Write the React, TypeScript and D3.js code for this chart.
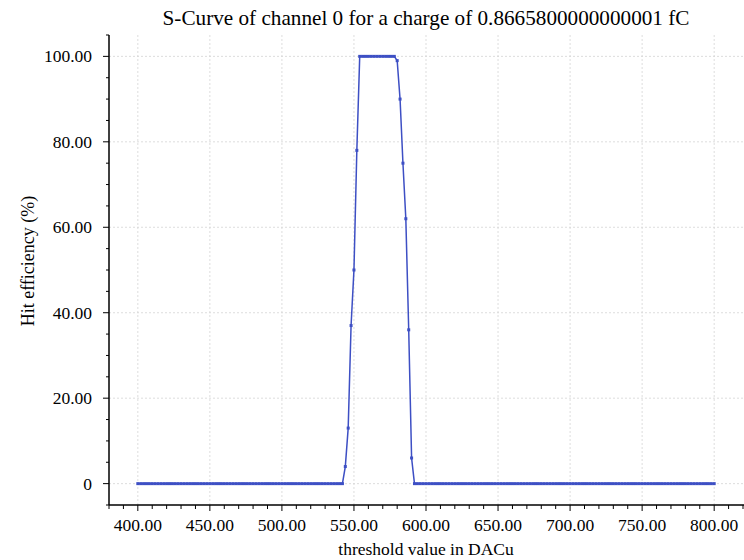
import React from "react";
import * as d3 from "d3";

const title = "S-Curve of channel 0 for a charge of 0.8665800000000001 fC";
const xLabel = "threshold value in DACu";
const yLabel = "Hit efficiency (%)";

// thresholds 400..800 step 2
const thresholds: number[] = d3.range(400, 801, 2);
const efficiency: number[] = [
  0, 0, 0, 0, 0, 0, 0, 0, 0, 0, 0, 0, 0, 0, 0, 0, 0, 0, 0, 0,
  0, 0, 0, 0, 0, 0, 0, 0, 0, 0, 0, 0, 0, 0, 0, 0, 0, 0, 0, 0,
  0, 0, 0, 0, 0, 0, 0, 0, 0, 0, 0, 0, 0, 0, 0, 0, 0, 0, 0, 0,
  0, 0, 0, 0, 0, 0, 0, 0, 0, 0, 0, 0,
  4, 13, 37, 50, 78,
  100, 100, 100, 100, 100, 100, 100, 100, 100, 100, 100, 100, 100,
  99, 90, 75, 62, 36, 6,
  0, 0, 0, 0, 0, 0, 0, 0, 0, 0, 0, 0, 0, 0, 0, 0, 0, 0, 0, 0,
  0, 0, 0, 0, 0, 0, 0, 0, 0, 0, 0, 0, 0, 0, 0, 0, 0, 0, 0, 0,
  0, 0, 0, 0, 0, 0, 0, 0, 0, 0, 0, 0, 0, 0, 0, 0, 0, 0, 0, 0,
  0, 0, 0, 0, 0, 0, 0, 0, 0, 0, 0, 0, 0, 0, 0, 0, 0, 0, 0, 0,
  0, 0, 0, 0, 0, 0, 0, 0, 0, 0, 0, 0, 0, 0, 0, 0, 0, 0, 0, 0,
  0, 0, 0, 0, 0,
];
const xMajorTicks = [400, 450, 500, 550, 600, 650, 700, 750, 800];
const yMajorTicks = [0, 20, 40, 60, 80, 100];

const W = 744;
const H = 560;
const left = 109;
const right = 743;
const top = 35;
const bottom = 505;
const color = "#3d4fc4";
const font = "'Liberation Serif', 'DejaVu Serif', serif";

export default function App() {
  const x = d3.scaleLinear().domain([380, 820]).range([left, right]);
  const y = d3.scaleLinear().domain([-5, 105]).range([bottom, top]);
  const xMinor = d3.range(380, 821, 10);
  const yMinor = d3.range(-5, 106, 5);
  const data = thresholds.map((t, i) => [t, efficiency[i]] as [number, number]);
  const line = d3
    .line<[number, number]>()
    .x((d) => x(d[0]))
    .y((d) => y(d[1]));
  const fmtY = (v: number) => (v === 0 ? "0" : v.toFixed(2));
  return (
    <svg
      width={W}
      height={H}
      style={{ position: "absolute", left: 0, top: 0, background: "#fff", fontFamily: font }}
    >
      <rect width={W} height={H} fill="#fff" />
      {/* grid */}
      {xMajorTicks.map((t) => (
        <line
          key={"gx" + t}
          x1={x(t)}
          x2={x(t)}
          y1={top}
          y2={bottom}
          stroke="#d4d4d4"
          strokeWidth={0.8}
          strokeDasharray="2,2"
        />
      ))}
      {yMajorTicks.map((t) => (
        <line
          key={"gy" + t}
          x1={left}
          x2={right}
          y1={y(t)}
          y2={y(t)}
          stroke="#d4d4d4"
          strokeWidth={0.8}
          strokeDasharray="2,2"
        />
      ))}
      {/* axes */}
      <line x1={left} x2={left} y1={top} y2={bottom} stroke="#000" strokeWidth={1.5} />
      <line x1={left} x2={W} y1={bottom} y2={bottom} stroke="#000" strokeWidth={1.5} />
      {xMinor.map((t) => (
        <line
          key={"xm" + t}
          x1={x(t)}
          x2={x(t)}
          y1={bottom}
          y2={bottom + (xMajorTicks.includes(t) ? 6 : 4)}
          stroke="#000"
          strokeWidth={1}
        />
      ))}
      {yMinor.map((t) => (
        <line
          key={"ym" + t}
          x1={left}
          x2={left - (yMajorTicks.includes(t) ? 6 : 3)}
          y1={y(t)}
          y2={y(t)}
          stroke="#000"
          strokeWidth={1}
        />
      ))}
      {xMajorTicks.map((t) => (
        <text key={"xl" + t} x={x(t)} y={531} fontSize={17.5} textAnchor="middle" fill="#000" fontFamily={font}>
          {t.toFixed(2)}
        </text>
      ))}
      {yMajorTicks.map((t) => (
        <text key={"yl" + t} x={92} y={y(t) + 6} fontSize={17.5} textAnchor="end" fill="#000" fontFamily={font}>
          {fmtY(t)}
        </text>
      ))}
      {/* data */}
      <path d={line(data) || ""} fill="none" stroke={color} strokeWidth={1.5} />
      {data.map((d, i) => (
        <rect key={"p" + i} x={x(d[0]) - 1.5} y={y(d[1]) - 1.5} width={3} height={3} fill={color} />
      ))}
      {/* labels */}
      <text x={426} y={25} fontSize={21.2} textAnchor="middle" fill="#000" fontFamily={font}>
        {title}
      </text>
      <text x={426} y={555} fontSize={17.5} textAnchor="middle" fill="#000" fontFamily={font}>
        {xLabel}
      </text>
      <text
        transform={`translate(34,261) rotate(-90)`}
        fontSize={18}
        textAnchor="middle"
        fill="#000"
        fontFamily={font}
      >
        {yLabel}
      </text>
    </svg>
  );
}
